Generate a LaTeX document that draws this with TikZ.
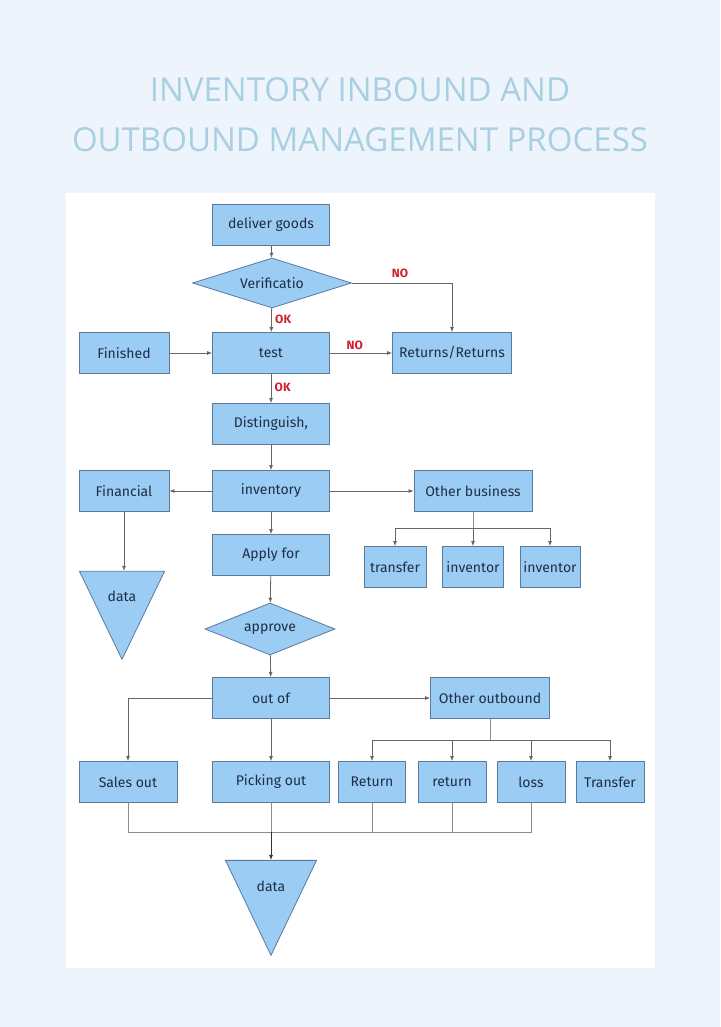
\documentclass[tikz,border=0pt]{standalone}
\usepackage{fontspec}
\setmainfont{Fira Sans}
\newfontfamily\titlefont{Open Sans}
\usetikzlibrary{positioning, arrows.meta, shapes.geometric}
\definecolor{boxfill}{HTML}{9ACCF4}
\definecolor{boxline}{HTML}{5A7A9E}
\definecolor{titleblue}{HTML}{A9CFE3}
\definecolor{bg}{HTML}{EEF4FB}
\definecolor{nored}{HTML}{D0202A}
\definecolor{txt}{HTML}{1E2E44}
\tikzset{
  box/.style={draw=boxline, fill=boxfill, line width=.8pt, minimum height=41pt, text=txt, font=\fontsize{14}{16}\selectfont, inner sep=1pt},
  dec/.style={diamond, aspect=3.1, draw=boxline, fill=boxfill, line width=.8pt, text=txt, font=\fontsize{14}{16}\selectfont, inner sep=0pt},
  tri/.style={isosceles triangle, isosceles triangle stretches, shape border rotate=-90, draw=boxline, fill=boxfill, line width=.8pt, inner sep=0pt},
  arr/.style={-{Latex[length=5pt,width=4pt]}, draw=black!60, line width=.8pt},
  lin/.style={draw=black!45, line width=.8pt},
  tag/.style={text=nored, font=\bfseries\fontsize{12}{14}\selectfont}
}
\begin{document}
\begin{tikzpicture}[x=1pt, y=-1pt]
  \fill[bg] (0,0) rectangle (720,1027);
  \fill[white] (66,193) rectangle (655,968);
  \node[text=titleblue, font=\titlefont\fontsize{33}{36}\selectfont] (t1) at (360,90) {INVENTORY INBOUND AND};
  \node[text=titleblue, font=\titlefont\fontsize{33}{36}\selectfont] (t2) at (360,140) {OUTBOUND MANAGEMENT PROCESS};

  % inbound
  \node[box, minimum width=117pt] (deliver) at (271,225) {deliver goods};
  \node[dec, minimum width=159pt, minimum height=50pt] (verify) at (272,283) {Verificatio};
  \node[box, minimum width=117pt] (test) at (271,353) {test};
  \node[box, minimum width=90pt] (finished) at (124,353) {Finished};
  \node[box, minimum width=119pt] (returns) at (452,353) {Returns/Returns};
  \node[box, minimum width=117pt] (disting) at (271,424) {Distinguish,};
  \node[box, minimum width=117pt] (inventory) at (271,491) {inventory};
  \node[box, minimum width=90pt] (financial) at (124,491) {Financial};
  \node[box, minimum width=118pt] (otherbus) at (473,491) {Other business};
  \node[box, minimum width=117pt] (apply) at (271,555) {Apply for};
  \node[box, minimum width=62pt] (transfer) at (395,567) {transfer};
  \node[box, minimum width=61pt] (inv1) at (473,567) {inventor};
  \node[box, minimum width=60pt] (inv2) at (550,567) {inventor};
  \node[tri, minimum width=85pt, minimum height=88pt] (data1) at (122,598) {};
  \node[text=txt, font=\fontsize{14}{16}\selectfont] (data1t) at (122,596) {data};

  % outbound
  \node[dec, minimum width=130pt, minimum height=52pt, aspect=2.5] (approve) at (270,629) {approve};
  \node[box, minimum width=117pt] (outof) at (271,698) {out of};
  \node[box, minimum width=119pt] (otherout) at (490,698) {Other outbound};
  \node[box, minimum width=98pt] (sales) at (128,782) {Sales out};
  \node[box, minimum width=117pt] (picking) at (271,782) {Picking out};
  \node[box, minimum width=67pt] (ret1) at (372,782) {Return};
  \node[box, minimum width=68pt] (ret2) at (452,782) {return};
  \node[box, minimum width=68pt] (loss) at (531,782) {loss};
  \node[box, minimum width=68pt] (transf) at (610,782) {Transfer};
  \node[tri, minimum width=91pt, minimum height=95pt] (data2) at (271,889) {};
  \node[text=txt, font=\fontsize{14}{16}\selectfont] (data2t) at (271,886) {data};
  \coordinate (join) at (271,832);

  % connectors
  \draw[arr] (deliver) -- (verify);
  \draw[arr] (verify) -- node[tag, right, pos=.45] {OK} (test);
  \draw[arr] (verify.east) -| (returns.north);
  \node[tag] (no1) at (400,273) {NO};
  \draw[arr] (test) -- node[tag, above, pos=.4] {NO} (returns);
  \draw[arr] (finished) -- (test);
  \draw[arr] (test) -- node[tag, right, pos=.45] {OK} (disting);
  \draw[arr] (disting) -- (inventory);
  \draw[arr] (inventory) -- (financial);
  \draw[arr] (inventory) -- (otherbus);
  \draw[arr] (inventory) -- (apply);
  \draw[arr] (financial) -- (data1.north -| financial);
  \draw[lin] (otherbus) -- ++(0,37) coordinate (ob);
  \draw[arr] (ob) -| (transfer.north);
  \draw[arr] (ob) -- (inv1);
  \draw[arr] (ob) -| (inv2.north);
  \draw[arr] (apply) -- (approve);
  \draw[arr] (approve) -- (outof);
  \draw[arr] (outof) -- (otherout);
  \draw[arr] (outof.west) -| (sales.north);
  \draw[arr] (outof) -- (picking);
  \draw[lin] (otherout) -- ++(0,42) coordinate (oo);
  \draw[arr] (oo) -| (ret1.north);
  \draw[arr] (oo) -| (ret2.north);
  \draw[arr] (oo) -| (loss.north);
  \draw[arr] (oo) -| (transf.north);
  \draw[lin] (sales.south) |- (join);
  \draw[lin] (ret1.south) |- (join);
  \draw[lin] (ret2.south) |- (join);
  \draw[lin] (loss.south) |- (join);
  \draw[lin] (picking) -- (join);
  \draw[arr, draw=black!80] (join) -- (data2.north);
\end{tikzpicture}
\end{document}
